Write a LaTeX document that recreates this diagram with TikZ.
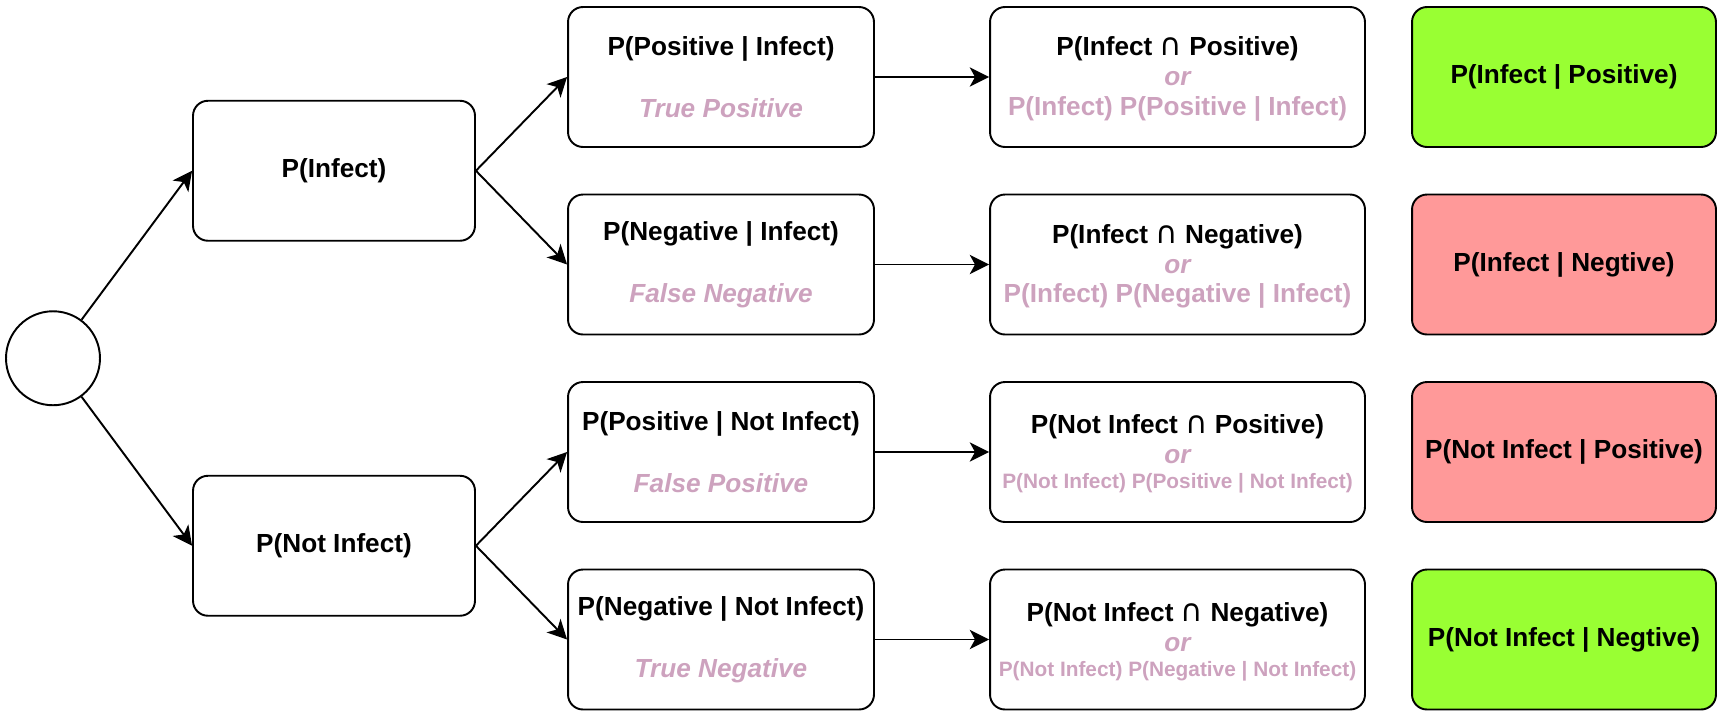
\documentclass[tikz,border=0pt]{standalone}
\usepackage{fontspec}
\setmainfont{Liberation Sans}
\newfontfamily\zeichenfont{DejaVu Sans}
\usepackage{tikz}
\usetikzlibrary{arrows.meta,calc}
\definecolor{rosa}{HTML}{CDA2BE}
\definecolor{gruen}{HTML}{99FF33}
\definecolor{rot}{HTML}{FF9999}
\newcommand{\schnitt}{{\zeichenfont\mdseries\fontsize{17.5}{17}\selectfont ∩}}

\begin{document}
\begin{tikzpicture}[x=0.02cm,y=-0.02cm,
  kasten/.style={draw=black,line width=1.1pt,rounded corners=8.5pt,minimum height=2.8cm,
    align=center,inner sep=2pt,font=\bfseries\fontsize{14.9}{17}\selectfont},
  pfeil/.style={line width=1.1pt,-{Stealth[length=11pt,width=11pt,inset=3pt]}}]
%Alle Masse in Pixeln des Bildes (1718 x 718), y zaehlt nach unten
%Spalten: Mitte in x, Zeilen: Mitte in y
  \pgfmathsetmacro{\xA}{334}
  \pgfmathsetmacro{\xB}{721}
  \pgfmathsetmacro{\xC}{1177.5}
  \pgfmathsetmacro{\xD}{1564}
  \pgfmathsetmacro{\yA}{77}
  \pgfmathsetmacro{\yB}{264.5}
  \pgfmathsetmacro{\yC}{452}
  \pgfmathsetmacro{\yD}{639.5}
\useasboundingbox (0,0) rectangle (1718,718);
\node[draw,circle,line width=1.1pt,minimum size=1.88cm,inner sep=0pt] (start) at (53,358.25) {};
\node[kasten,minimum width=5.64cm] (infekt) at (\xA,{(\yA+\yB)/2}) {P(Infect)};
\node[kasten,minimum width=5.64cm] (nichtinfekt) at (\xA,{(\yC+\yD)/2}) {P(Not Infect)};
%Bedingte Wahrscheinlichkeiten
\node[kasten,minimum width=6.12cm] (posinf) at (\xB,\yA) {P(Positive | Infect)\\[18pt]{\color{rosa}\itshape True Positive}};
\node[kasten,minimum width=6.12cm] (neginf) at (\xB,\yB) {P(Negative | Infect)\\[18pt]{\color{rosa}\itshape False Negative}};
\node[kasten,minimum width=6.12cm] (posnicht) at (\xB,\yC) {P(Positive | Not Infect)\\[18pt]{\color{rosa}\itshape False Positive}};
\node[kasten,minimum width=6.12cm] (negnicht) at (\xB,\yD) {P(Negative | Not Infect)\\[18pt]{\color{rosa}\itshape True Negative}};
%Schnittmengen (Strut schiebt den Text etwas nach unten)
\node[kasten,minimum width=7.5cm] (schnittA) at (\xC,\yA) {\rule{0pt}{13pt}P(Infect \schnitt{} Positive)\\{\color{rosa}\itshape or}\\{\color{rosa}P(Infect) P(Positive | Infect)}};
\node[kasten,minimum width=7.5cm] (schnittB) at (\xC,\yB) {\rule{0pt}{13pt}P(Infect \schnitt{} Negative)\\{\color{rosa}\itshape or}\\{\color{rosa}P(Infect) P(Negative | Infect)}};
\node[kasten,minimum width=7.5cm] (schnittC) at (\xC,\yC) {\rule{0pt}{13pt}P(Not Infect \schnitt{} Positive)\\{\color{rosa}\itshape or}\\[-2.8pt]{\color{rosa}\fontsize{11.85}{14}\selectfont P(Not Infect) P(Positive | Not Infect)}};
\node[kasten,minimum width=7.5cm] (schnittD) at (\xC,\yD) {\rule{0pt}{13pt}P(Not Infect \schnitt{} Negative)\\{\color{rosa}\itshape or}\\[-2.8pt]{\color{rosa}\fontsize{11.85}{14}\selectfont P(Not Infect) P(Negative | Not Infect)}};
%Ergebnis
\node[kasten,minimum width=6.08cm,fill=gruen] (ergA) at (\xD,\yA) {P(Infect | Positive)};
\node[kasten,minimum width=6.08cm,fill=rot] (ergB) at (\xD,\yB) {P(Infect | Negtive)};
\node[kasten,minimum width=6.08cm,fill=rot] (ergC) at (\xD,\yC) {P(Not Infect | Positive)};
\node[kasten,minimum width=6.08cm,fill=gruen] (ergD) at (\xD,\yD) {P(Not Infect | Negtive)};
\draw[pfeil] (start) -- (infekt.west);
\draw[pfeil] (start) -- (nichtinfekt.west);
\draw[pfeil] (infekt.east) -- (posinf.west);
\draw[pfeil] (infekt.east) -- (neginf.west);
\draw[pfeil] (nichtinfekt.east) -- (posnicht.west);
\draw[pfeil] (nichtinfekt.east) -- (negnicht.west);
\draw[pfeil] (posinf) -- (schnittA);
\draw[pfeil] (neginf) -- (schnittB);
\draw[pfeil] (posnicht) -- (schnittC);
\draw[pfeil] (negnicht) -- (schnittD);
\end{tikzpicture}
\end{document}
